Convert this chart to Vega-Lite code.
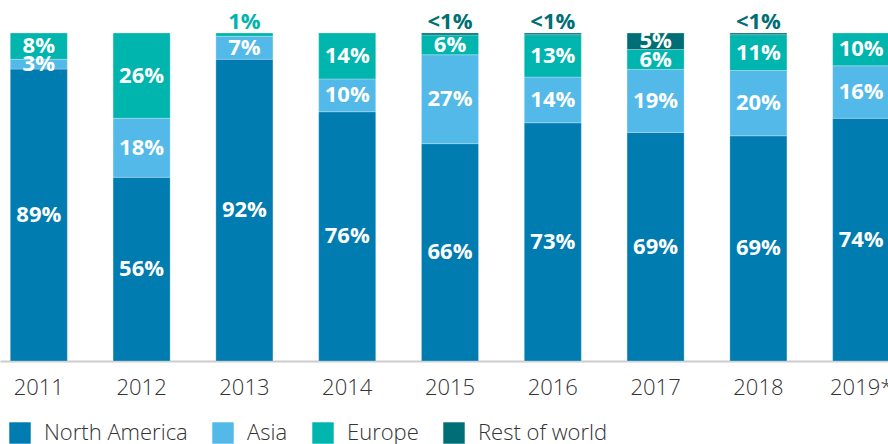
{
  "$schema": "https://vega.github.io/schema/vega-lite/v6.json",
  "width": 900,
  "height": 328,
  "padding": {"top": 33, "left": 0, "right": 0, "bottom": 83},
  "autosize": {"type": "none"},
  "config": {"view": {"stroke": null}, "font": "Open Sans"},
  "data": {"values": [
    {"year": "2011", "region": "North America", "order": 1, "value": 89, "label": "89%", "inside": true},
    {"year": "2011", "region": "Asia", "order": 2, "value": 3, "label": "3%", "inside": true},
    {"year": "2011", "region": "Europe", "order": 3, "value": 8, "label": "8%", "inside": true},
    {"year": "2012", "region": "North America", "order": 1, "value": 56, "label": "56%", "inside": true},
    {"year": "2012", "region": "Asia", "order": 2, "value": 18, "label": "18%", "inside": true},
    {"year": "2012", "region": "Europe", "order": 3, "value": 26, "label": "26%", "inside": true},
    {"year": "2013", "region": "North America", "order": 1, "value": 92, "label": "92%", "inside": true},
    {"year": "2013", "region": "Asia", "order": 2, "value": 7, "label": "7%", "inside": true},
    {"year": "2013", "region": "Europe", "order": 3, "value": 1, "label": "1%", "inside": false},
    {"year": "2014", "region": "North America", "order": 1, "value": 76, "label": "76%", "inside": true},
    {"year": "2014", "region": "Asia", "order": 2, "value": 10, "label": "10%", "inside": true},
    {"year": "2014", "region": "Europe", "order": 3, "value": 14, "label": "14%", "inside": true},
    {"year": "2015", "region": "North America", "order": 1, "value": 66, "label": "66%", "inside": true},
    {"year": "2015", "region": "Asia", "order": 2, "value": 27, "label": "27%", "inside": true},
    {"year": "2015", "region": "Europe", "order": 3, "value": 6, "label": "6%", "inside": true},
    {"year": "2015", "region": "Rest of world", "order": 4, "value": 0.6, "label": "<1%", "inside": false},
    {"year": "2016", "region": "North America", "order": 1, "value": 73, "label": "73%", "inside": true},
    {"year": "2016", "region": "Asia", "order": 2, "value": 14, "label": "14%", "inside": true},
    {"year": "2016", "region": "Europe", "order": 3, "value": 13, "label": "13%", "inside": true},
    {"year": "2016", "region": "Rest of world", "order": 4, "value": 0.5, "label": "<1%", "inside": false},
    {"year": "2017", "region": "North America", "order": 1, "value": 69, "label": "69%", "inside": true},
    {"year": "2017", "region": "Asia", "order": 2, "value": 19, "label": "19%", "inside": true},
    {"year": "2017", "region": "Europe", "order": 3, "value": 6, "label": "6%", "inside": true},
    {"year": "2017", "region": "Rest of world", "order": 4, "value": 5, "label": "5%", "inside": true},
    {"year": "2018", "region": "North America", "order": 1, "value": 69, "label": "69%", "inside": true},
    {"year": "2018", "region": "Asia", "order": 2, "value": 20, "label": "20%", "inside": true},
    {"year": "2018", "region": "Europe", "order": 3, "value": 11, "label": "11%", "inside": true},
    {"year": "2018", "region": "Rest of world", "order": 4, "value": 0.5, "label": "<1%", "inside": false},
    {"year": "2019*", "region": "North America", "order": 1, "value": 74, "label": "74%", "inside": true},
    {"year": "2019*", "region": "Asia", "order": 2, "value": 16, "label": "16%", "inside": true},
    {"year": "2019*", "region": "Europe", "order": 3, "value": 10, "label": "10%", "inside": true}
  ]},
  "transform": [
    {"stack": "value", "groupby": ["year"], "sort": [{"field": "order", "order": "ascending"}], "offset": "normalize", "as": ["y0", "y1"]},
    {"calculate": "(datum.y0 + datum.y1) / 2", "as": "ymid"}
  ],
  "encoding": {
    "x": {
      "field": "year", "type": "ordinal", "sort": null,
      "scale": {"paddingInner": 0.445, "paddingOuter": 0.1},
      "axis": {
        "title": null, "labelAngle": 0, "labelFont": "Open Sans", "labelFontWeight": 300,
        "labelFontSize": 22, "labelColor": "#333333", "labelPadding": 16,
        "ticks": false, "domainColor": "#cccccc", "domainWidth": 2, "zindex": 0
      }
    }
  },
  "layer": [
    {
      "mark": {"type": "bar", "stroke": "#ffffff", "strokeWidth": 0.5, "strokeOpacity": 0.5},
      "encoding": {
        "y": {"field": "y1", "type": "quantitative", "scale": {"domain": [0, 1]}, "axis": null},
        "y2": {"field": "y0"},
        "color": {
          "field": "region", "type": "nominal",
          "scale": {"domain": ["North America", "Asia", "Europe", "Rest of world"], "range": ["#007CB0", "#52B9E8", "#00B5AD", "#006F75"]},
          "legend": {
            "title": null, "orient": "none", "direction": "horizontal", "legendX": 9, "legendY": 389,
            "symbolType": "square", "symbolSize": 460, "symbolStrokeWidth": 0, "symbolOpacity": 1,
            "labelFont": "Open Sans", "labelFontWeight": 300, "labelFontSize": 22, "labelColor": "#333333",
            "labelOffset": 13, "columnPadding": 24, "labelLimit": 300
          }
        }
      }
    },
    {
      "transform": [{"filter": "datum.inside"}],
      "mark": {"type": "text", "color": "#ffffff", "font": "Open Sans", "fontWeight": "bold", "fontSize": 22, "baseline": "middle"},
      "encoding": {
        "y": {"field": "ymid", "type": "quantitative"},
        "text": {"field": "label"}
      }
    },
    {
      "transform": [{"filter": "!datum.inside"}],
      "mark": {"type": "text", "font": "Open Sans", "fontWeight": "bold", "fontSize": 22, "baseline": "middle", "dy": -11},
      "encoding": {
        "y": {"datum": 1, "type": "quantitative"},
        "text": {"field": "label"},
        "color": {"field": "region", "type": "nominal", "legend": null}
      }
    }
  ]
}
